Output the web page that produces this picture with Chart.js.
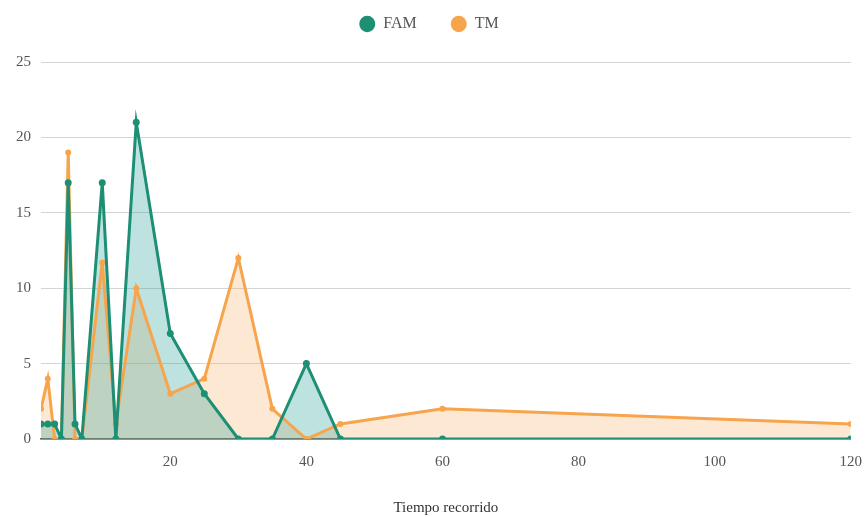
<!DOCTYPE html>
<html>
<head>
<meta charset="utf-8">
<script src="https://cdn.jsdelivr.net/npm/chart.js@4.4.0/dist/chart.umd.min.js"></script>
<style>
  html, body { margin: 0; padding: 0; background: #ffffff; }
  #wrap { width: 868px; height: 517px; }
</style>
</head>
<body>
<div id="wrap"><canvas id="c" width="868" height="517"></canvas></div>
<script>
const xValues   = [1, 2, 3, 4, 5, 6, 7, 10, 12, 15, 20, 25, 30, 35, 40, 45, 60, 120];
const famValues = [1, 1, 1, 0, 17, 1, 0, 17, 0, 21, 7, 3, 0, 0, 5, 0, 0, 0];
const tmValues  = [2, 4, 0, 0, 19, 0, 0, 11.7, 1, 10, 3, 4, 12, 2, 0, 1, 2, 1];
const xTicks    = [20, 40, 60, 80, 100, 120];
const seriesNames = ['FAM', 'TM'];
const axisTitle = 'Tiempo recorrido';

const FONT = "'Liberation Serif', 'DejaVu Serif', serif";
const toPoints = (vals) => xValues.map((x, i) => ({ x: x, y: vals[i] }));

const legendMargin = {
  id: 'legendMargin',
  beforeInit(chart) {
    const orig = chart.legend.fit;
    chart.legend.fit = function () {
      orig.bind(chart.legend)();
      this.height += 20;
    };
  }
};

new Chart(document.getElementById('c'), {
  type: 'line',
  plugins: [legendMargin],
  data: {
    datasets: [
      {
        label: seriesNames[0],
        data: toPoints(famValues),
        borderColor: '#1d8f74',
        backgroundColor: 'rgba(40, 160, 150, 0.30)',
        pointBackgroundColor: '#1d8f74',
        pointBorderColor: '#1d8f74',
        borderWidth: 3,
        pointRadius: 2,
        tension: 0,
        fill: 'origin'
      },
      {
        label: seriesNames[1],
        data: toPoints(tmValues),
        borderColor: '#f6a54c',
        backgroundColor: 'rgba(248, 180, 110, 0.30)',
        pointBackgroundColor: '#f6a54c',
        pointBorderColor: '#f6a54c',
        borderWidth: 3,
        pointRadius: 1.5,
        tension: 0,
        fill: 'origin'
      }
    ]
  },
  options: {
    responsive: false,
    animation: false,
    layout: { padding: { left: 6, right: 16, top: -18, bottom: 0 } },
    plugins: {
      filler: { drawTime: 'beforeDatasetsDraw' },
      legend: {
        position: 'top',
        labels: {
          usePointStyle: true,
          pointStyle: 'circle',
          pointStyleWidth: 16,
          boxWidth: 11.5,
          boxHeight: 11.5,
          padding: 34,
          color: '#555',
          font: { family: FONT, size: 16 },
          generateLabels: (chart) => chart.data.datasets.map((d, i) => ({
            text: d.label,
            fillStyle: d.borderColor,
            strokeStyle: d.borderColor,
            lineWidth: 0,
            pointStyle: 'circle',
            hidden: false,
            datasetIndex: i,
            fontColor: '#555'
          }))
        }
      },
      tooltip: { enabled: false }
    },
    scales: {
      x: {
        type: 'linear',
        min: 1,
        max: 120,
        afterBuildTicks: (scale) => { scale.ticks = xTicks.map(v => ({ value: v })); },
        grid: { display: false },
        border: { display: true, color: '#555', width: 1.5 },
        ticks: { color: '#555', font: { family: FONT, size: 15 }, padding: 6, maxRotation: 0 },
        title: { display: true, text: axisTitle, color: '#333', font: { family: FONT, size: 15 }, padding: { top: 22, bottom: 0 } }
      },
      y: {
        min: 0,
        max: 25,
        ticks: { stepSize: 5, color: '#555', font: { family: FONT, size: 15 }, padding: 10 },
        grid: { color: '#d5d5d5', drawTicks: false, lineWidth: 1 },
        border: { display: false }
      }
    }
  }
});
</script>
</body>
</html>
